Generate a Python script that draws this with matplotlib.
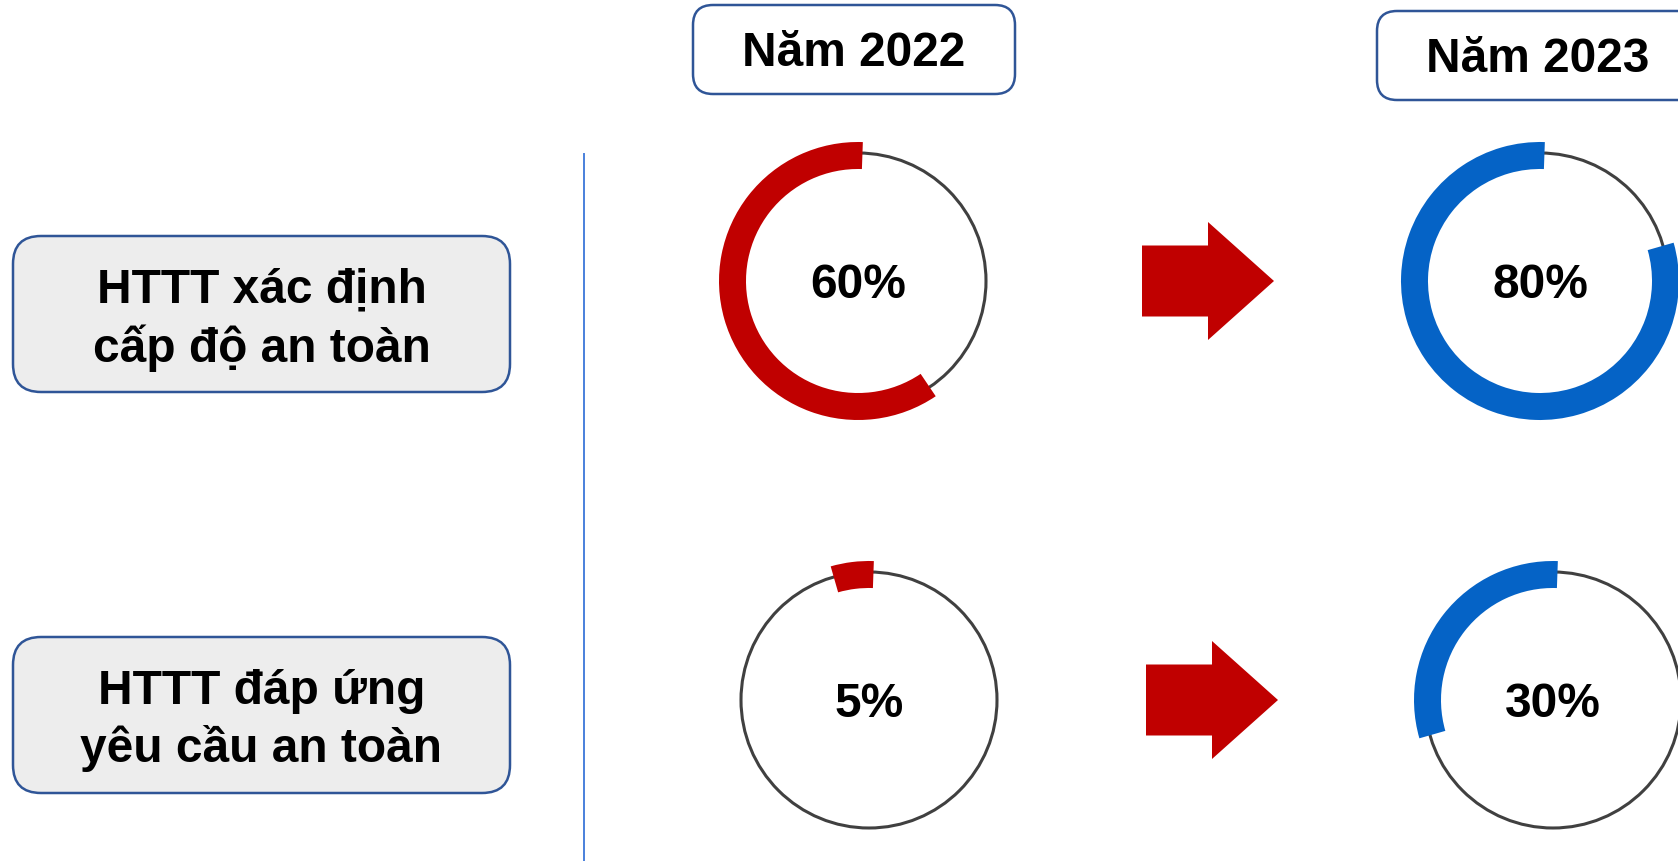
import matplotlib
matplotlib.use("Agg")
import matplotlib.pyplot as plt
from matplotlib.patches import Wedge, Circle, FancyBboxPatch, Polygon

# canvas in pixels (y measured downward, flipped when drawn)
W, H = 1678, 861

RED = "#C00000"
BLUE = "#0563C6"
RING_GRAY = "#404040"
BOX_EDGE = "#2F5597"
BOX_FILL = "#EDEDED"
DIVIDER = "#4A80DC"

years = ["Năm 2022", "Năm 2023"]
row_labels = ["HTTT xác định\ncấp độ an toàn", "HTTT đáp ứng\nyêu cầu an toàn"]
pct_2022 = [60, 5]
pct_2023 = [80, 30]

# layout (pixels)
row_y = [281, 700]
ring_x_2022 = [858, 869]
ring_x_2023 = [1540, 1553]
arrow_x = [1142, 1146]
year_box_x = [693, 1377]
year_box_y = [5, 11]
label_box_y = [236, 637]

R_THIN = 128
R_OUT = 139
BAND = 27
START = 88


def fy(y):
    return H - y


plt.rcParams["font.family"] = ["Liberation Sans", "DejaVu Sans"]

fig = plt.figure(figsize=(W / 100, H / 100), dpi=100)
ax = fig.add_axes([0, 0, 1, 1])
ax.set_xlim(0, W)
ax.set_ylim(0, H)
ax.axis("off")


def ring(cx, cy, pct, color):
    ax.add_patch(Circle((cx, fy(cy)), R_THIN, fill=False, edgecolor=RING_GRAY, lw=2.2, zorder=2))
    ax.add_patch(Wedge((cx, fy(cy)), R_OUT, START, START + pct * 3.6, width=BAND,
                       facecolor=color, edgecolor="none", zorder=3))
    ax.text(cx, fy(cy + 17), f"{pct}%", ha="center", va="baseline",
            fontsize=34.5, fontweight="bold", color="black", zorder=4)


def arrow(x0, cy):
    neck, tip = x0 + 66, x0 + 132
    pts = [(x0, cy - 35.5), (neck, cy - 35.5), (neck, cy - 59), (tip, cy),
           (neck, cy + 59), (neck, cy + 35.5), (x0, cy + 35.5)]
    ax.add_patch(Polygon([(x, fy(y)) for x, y in pts], closed=True,
                         facecolor=RED, edgecolor="none", zorder=2))


# year headers
for name, bx, by in zip(years, year_box_x, year_box_y):
    ax.add_patch(FancyBboxPatch((bx, fy(by + 89)), 322, 89,
                                boxstyle="round,pad=0,rounding_size=20",
                                facecolor="white", edgecolor=BOX_EDGE, lw=1.8, zorder=2))
    ax.text(bx + 161, fy(by + 44.5 + 16.5), name, ha="center", va="baseline",
            fontsize=34.5, fontweight="bold", zorder=3)

# row labels
for label, by in zip(row_labels, label_box_y):
    ax.add_patch(FancyBboxPatch((13, fy(by + 156)), 497, 156,
                                boxstyle="round,pad=0,rounding_size=28",
                                facecolor=BOX_FILL, edgecolor=BOX_EDGE, lw=1.8, zorder=2))
    for i, line in enumerate(label.split("\n")):
        ax.text(261.5, fy(by + 78 - 11.5 + i * 59), line, ha="center", va="baseline",
                fontsize=34.5, fontweight="bold", zorder=3)

# divider
ax.plot([584, 584], [fy(154), fy(H)], color=DIVIDER, lw=1.4, zorder=1)

# rings + arrows
for i, cy in enumerate(row_y):
    ring(ring_x_2022[i], cy, pct_2022[i], RED)
    arrow(arrow_x[i], cy)
    ring(ring_x_2023[i], cy, pct_2023[i], BLUE)

fig.savefig("out.png", dpi=100, facecolor="white")
